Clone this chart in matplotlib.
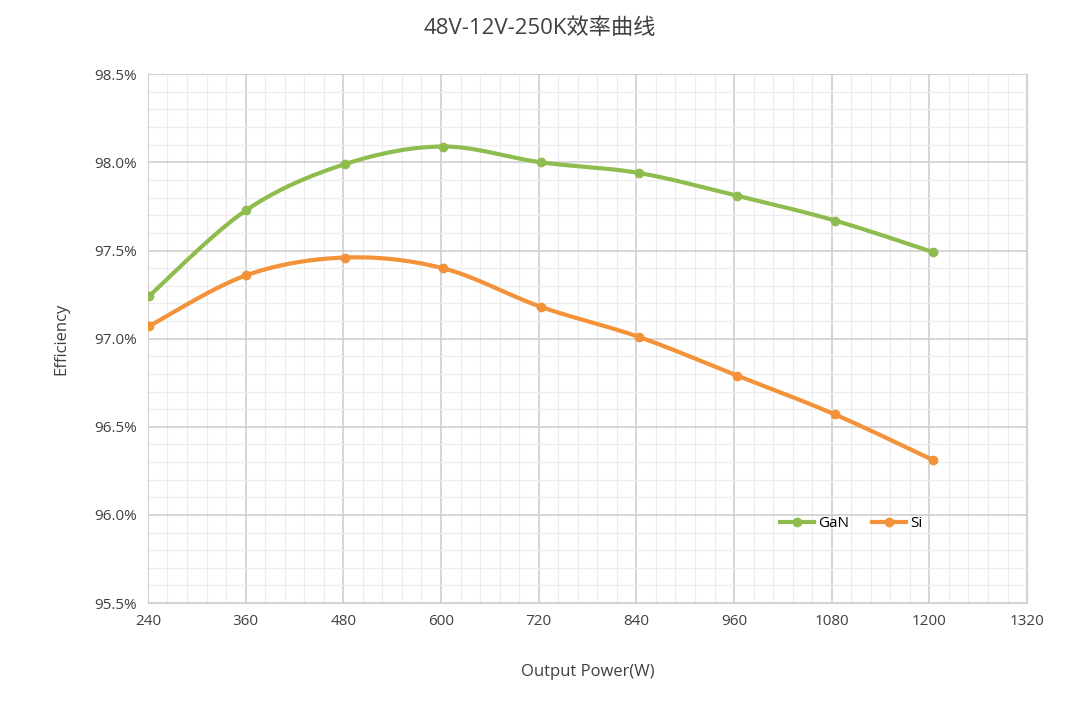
import numpy as np
import matplotlib
matplotlib.use("Agg")
import matplotlib.pyplot as plt
from matplotlib import font_manager
from matplotlib.ticker import MultipleLocator, FuncFormatter

power = [241, 361, 482, 602, 723, 843, 964, 1084, 1205]
gan = [97.24, 97.73, 97.99, 98.09, 98.00, 97.94, 97.81, 97.67, 97.49]
si = [97.07, 97.36, 97.46, 97.40, 97.18, 97.01, 96.79, 96.57, 96.31]
xticks = [240, 360, 480, 600, 720, 840, 960, 1080, 1200, 1320]

names = {f.name for f in font_manager.fontManager.ttflist}
cjk = [n for n in ["Noto Sans CJK SC", "Noto Sans CJK JP", "Noto Sans CJK TC", "Noto Sans CJK KR"] if n in names]
plt.rcParams["font.family"] = ["Open Sans"] + cjk + ["DejaVu Sans"]

def smooth(x, y, n=30):
    x = np.asarray(x, float); y = np.asarray(y, float)
    xs, ys = [], []
    P = np.vstack([x, y]).T
    P = np.vstack([P[0], P, P[-1]])
    for i in range(1, len(P) - 2):
        p0, p1, p2, p3 = P[i-1], P[i], P[i+1], P[i+2]
        t = np.linspace(0, 1, n)[:, None]
        m1 = (p2 - p0) / 2
        m2 = (p3 - p1) / 2
        h00 = 2*t**3 - 3*t**2 + 1; h10 = t**3 - 2*t**2 + t
        h01 = -2*t**3 + 3*t**2; h11 = t**3 - t**2
        seg = h00*p1 + h10*m1 + h01*p2 + h11*m2
        xs.extend(seg[:, 0]); ys.extend(seg[:, 1])
    return xs, ys

fig = plt.figure(figsize=(10.8, 7.07), dpi=100)
ax = fig.add_axes([0.137, 0.147, 0.814, 0.748])
green, orange = "#8fbc4e", "#f39238"
for ys, c, lab in [(gan, green, "GaN"), (si, orange, "Si")]:
    sx, sy = smooth(power, ys)
    ax.plot(sx, sy, color=c, lw=3, zorder=3)
    ax.plot(power, ys, "o", color=c, ms=6, zorder=4)
    ax.plot([], [], "-o", color=c, lw=3, ms=6, label=lab)

ax.set_xlim(240, 1320)
ax.set_ylim(95.5, 98.5)
ax.set_xticks(xticks)
ax.xaxis.set_minor_locator(MultipleLocator(24))
ax.yaxis.set_major_locator(MultipleLocator(0.5))
ax.yaxis.set_minor_locator(MultipleLocator(0.1))
ax.yaxis.set_major_formatter(FuncFormatter(lambda v, p: f"{v:.1f}%"))
ax.grid(which="major", color="#d0d0d0", lw=1.2)
ax.grid(which="minor", color="#ececec", lw=0.8)
for s in ax.spines.values():
    s.set_color("#d0d0d0")
ax.tick_params(which="both", length=0, labelsize=11, colors="#404040", pad=8)
ax.set_xlabel("Output Power(W)", fontsize=12, color="#404040", labelpad=25)
ax.set_ylabel("Efficiency", fontsize=12, color="#404040", labelpad=18)
fig.suptitle("48V-12V-250K效率曲线", fontsize=16, color="#404040", y=0.975)
ax.legend(loc="center", bbox_to_anchor=(0.8, 0.15), ncol=2, frameon=False,
          fontsize=11, handlelength=2.2, columnspacing=1.5, handletextpad=0.3)
fig.savefig("out.png")
